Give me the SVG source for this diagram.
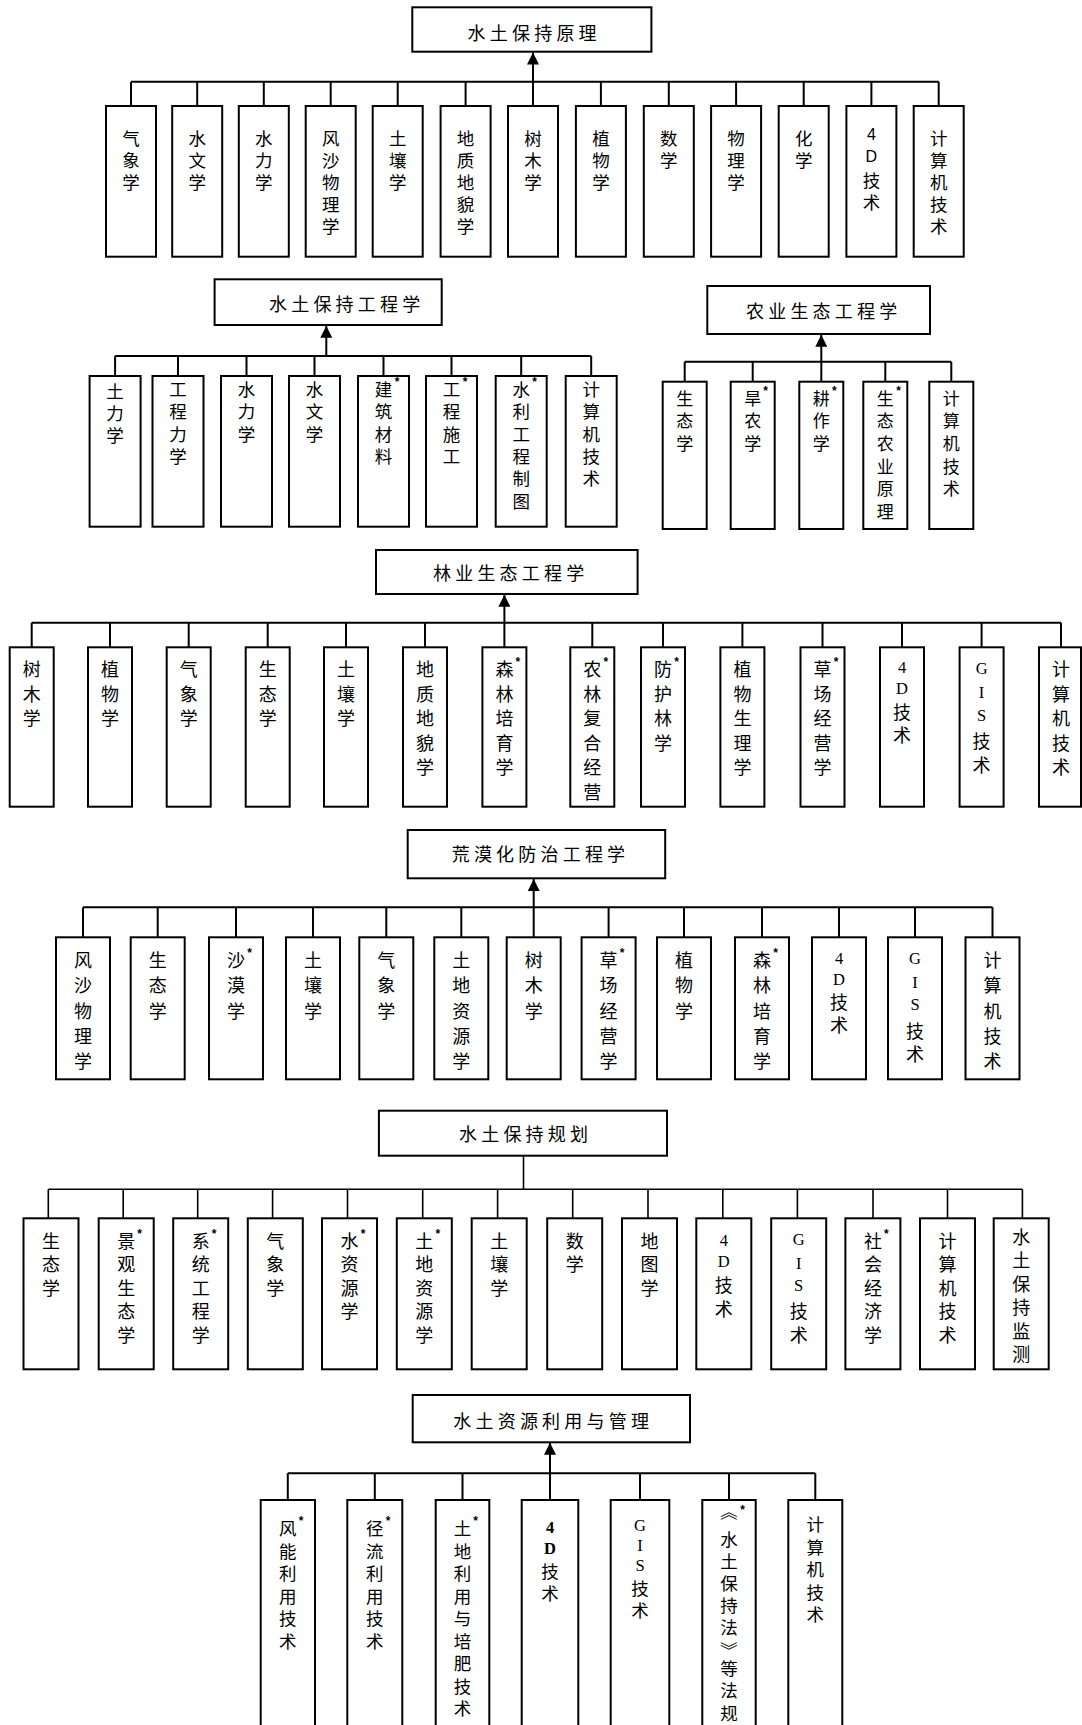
<svg xmlns="http://www.w3.org/2000/svg" width="1082" height="1725" viewBox="0 0 1082 1725">
<defs>
<style>
.box{fill:#fff;stroke:#000;stroke-width:2}
.ttl{font-family:"Noto Sans CJK SC","Noto Sans",sans-serif;font-size:18px;letter-spacing:4.2px;dominant-baseline:central;fill:#000}
.lbl{font-family:"Noto Sans CJK SC","Noto Sans",sans-serif;font-size:18px;text-anchor:middle;dominant-baseline:central;fill:#000}
.f175{font-size:17.5px}
.s2r{font-size:17px}
.lats{font-family:"Liberation Sans",Arial,sans-serif;font-size:16px}
.lat{font-family:"Liberation Serif","Times New Roman",serif;font-size:16.5px}
.latb{font-family:"Liberation Serif","Times New Roman",serif;font-size:16.5px;font-weight:bold}
.star{font-family:"Liberation Sans",Arial,sans-serif;font-size:12px;font-weight:bold;text-anchor:middle;fill:#000}
.ln{stroke:#000;stroke-width:2;fill:none}
.thin{stroke-width:1.6}
</style>
<marker id="ah" viewBox="0 0 10 10" refX="10" refY="5" markerWidth="12" markerHeight="12" markerUnits="userSpaceOnUse" orient="auto"><path d="M0,0 L10,5 L0,10 z" fill="#000"/></marker>
</defs>
<rect width="1082" height="1725" fill="#fff"/>

<!-- Section 1 -->
<g id="t1"><rect class="box" x="412.3" y="7.3" width="239.1" height="44.4"/><text class="ttl" x="467.6" y="31.7">水土保持原理</text></g>
<g id="s1n1"><rect class="box" x="106" y="106" width="50" height="150.7"/><text class="lbl f175"><tspan x="131" y="136.5">气</tspan><tspan x="131" y="158.5">象</tspan><tspan x="131" y="180.5">学</tspan></text></g>
<g id="s1n2"><rect class="box" x="172.2" y="106" width="50" height="150.7"/><text class="lbl f175"><tspan x="197.2" y="136.5">水</tspan><tspan x="197.2" y="158.5">文</tspan><tspan x="197.2" y="180.5">学</tspan></text></g>
<g id="s1n3"><rect class="box" x="238.8" y="106" width="50" height="150.7"/><text class="lbl f175"><tspan x="263.8" y="136.5">水</tspan><tspan x="263.8" y="158.5">力</tspan><tspan x="263.8" y="180.5">学</tspan></text></g>
<g id="s1n4"><rect class="box" x="305.7" y="106" width="50" height="150.7"/><text class="lbl f175"><tspan x="330.7" y="136.5">风</tspan><tspan x="330.7" y="158.5">沙</tspan><tspan x="330.7" y="180.5">物</tspan><tspan x="330.7" y="202.5">理</tspan><tspan x="330.7" y="224.5">学</tspan></text></g>
<g id="s1n5"><rect class="box" x="372.7" y="106" width="50" height="150.7"/><text class="lbl f175"><tspan x="397.7" y="136.5">土</tspan><tspan x="397.7" y="158.5">壤</tspan><tspan x="397.7" y="180.5">学</tspan></text></g>
<g id="s1n6"><rect class="box" x="440.6" y="106" width="50" height="150.7"/><text class="lbl f175"><tspan x="465.6" y="136.5">地</tspan><tspan x="465.6" y="158.5">质</tspan><tspan x="465.6" y="180.5">地</tspan><tspan x="465.6" y="202.5">貌</tspan><tspan x="465.6" y="224.5">学</tspan></text></g>
<g id="s1n7"><rect class="box" x="508" y="106" width="50" height="150.7"/><text class="lbl f175"><tspan x="533" y="136.5">树</tspan><tspan x="533" y="158.5">木</tspan><tspan x="533" y="180.5">学</tspan></text></g>
<g id="s1n8"><rect class="box" x="575.9" y="106" width="50" height="150.7"/><text class="lbl f175"><tspan x="600.9" y="136.5">植</tspan><tspan x="600.9" y="158.5">物</tspan><tspan x="600.9" y="180.5">学</tspan></text></g>
<g id="s1n9"><rect class="box" x="643.8" y="106" width="50" height="150.7"/><text class="lbl f175"><tspan x="668.8" y="136.5">数</tspan><tspan x="668.8" y="158.5">学</tspan></text></g>
<g id="s1n10"><rect class="box" x="711.1" y="106" width="50" height="150.7"/><text class="lbl f175"><tspan x="736.1" y="136.5">物</tspan><tspan x="736.1" y="158.5">理</tspan><tspan x="736.1" y="180.5">学</tspan></text></g>
<g id="s1n11"><rect class="box" x="778.7" y="106" width="50" height="150.7"/><text class="lbl f175"><tspan x="803.7" y="136.5">化</tspan><tspan x="803.7" y="158.5">学</tspan></text></g>
<g id="s1n12"><rect class="box" x="846.4" y="106" width="50" height="150.7"/><text class="lbl f175"><tspan class="lats" x="871.4" y="134">4</tspan><tspan class="lats" x="871.4" y="155.5">D</tspan><tspan x="871.4" y="178.5">技</tspan><tspan x="871.4" y="200.5">术</tspan></text></g>
<g id="s1n13"><rect class="box" x="913.7" y="106" width="50" height="150.7"/><text class="lbl f175"><tspan x="938.7" y="136.5">计</tspan><tspan x="938.7" y="158.5">算</tspan><tspan x="938.7" y="180.5">机</tspan><tspan x="938.7" y="202.5">技</tspan><tspan x="938.7" y="224.5">术</tspan></text></g>

<!-- Section 2 left -->
<g id="t2"><rect class="box" x="214.6" y="279.3" width="227.1" height="45.7"/><text class="ttl" x="269" y="303.3">水土保持工程学</text></g>
<g id="s2n1"><rect class="box" x="89.6" y="376" width="51" height="150.7"/><text class="lbl f175"><tspan x="115.1" y="390">土</tspan><tspan x="115.1" y="412">力</tspan><tspan x="115.1" y="434">学</tspan></text></g>
<g id="s2n2"><rect class="box" x="152.5" y="376" width="51" height="150.7"/><text class="lbl f175"><tspan x="178" y="388">工</tspan><tspan x="178" y="410.3">程</tspan><tspan x="178" y="432.6">力</tspan><tspan x="178" y="454.9">学</tspan></text></g>
<g id="s2n3"><rect class="box" x="221" y="376" width="51" height="150.7"/><text class="lbl f175"><tspan x="246.5" y="388">水</tspan><tspan x="246.5" y="410.3">力</tspan><tspan x="246.5" y="432.6">学</tspan></text></g>
<g id="s2n4"><rect class="box" x="289" y="376" width="51" height="150.7"/><text class="lbl f175"><tspan x="314.5" y="388">水</tspan><tspan x="314.5" y="410.3">文</tspan><tspan x="314.5" y="432.6">学</tspan></text></g>
<g id="s2n5"><rect class="box" x="358" y="376" width="51" height="150.7"/><text class="lbl f175"><tspan x="383.5" y="388">建</tspan><tspan x="383.5" y="410.3">筑</tspan><tspan x="383.5" y="432.6">材</tspan><tspan x="383.5" y="454.9">料</tspan></text><text class="star" x="397" y="386">*</text></g>
<g id="s2n6"><rect class="box" x="426" y="376" width="51" height="150.7"/><text class="lbl f175"><tspan x="451.5" y="388">工</tspan><tspan x="451.5" y="410.3">程</tspan><tspan x="451.5" y="432.6">施</tspan><tspan x="451.5" y="454.9">工</tspan></text><text class="star" x="465" y="386">*</text></g>
<g id="s2n7"><rect class="box" x="495.7" y="376" width="51" height="150.7"/><text class="lbl f175"><tspan x="521.2" y="388">水</tspan><tspan x="521.2" y="410.3">利</tspan><tspan x="521.2" y="432.6">工</tspan><tspan x="521.2" y="454.9">程</tspan><tspan x="521.2" y="477.2">制</tspan><tspan x="521.2" y="499.5">图</tspan></text><text class="star" x="534.7" y="386">*</text></g>
<g id="s2n8"><rect class="box" x="565.7" y="376" width="51" height="150.7"/><text class="lbl f175"><tspan x="591.2" y="388">计</tspan><tspan x="591.2" y="410.3">算</tspan><tspan x="591.2" y="432.6">机</tspan><tspan x="591.2" y="454.9">技</tspan><tspan x="591.2" y="477.2">术</tspan></text></g>

<!-- Section 2 right -->
<g id="t3"><rect class="box" x="707.3" y="286" width="222.7" height="48"/><text class="ttl" x="746" y="310">农业生态工程学</text></g>
<g id="s3n1"><rect class="box" x="662.7" y="381.7" width="44" height="147.3"/><text class="lbl s2r"><tspan x="684.7" y="396.7">生</tspan><tspan x="684.7" y="419.3">态</tspan><tspan x="684.7" y="441.9">学</tspan></text></g>
<g id="s3n2"><rect class="box" x="730.7" y="381.7" width="44" height="147.3"/><text class="lbl s2r"><tspan x="752.7" y="396.7">旱</tspan><tspan x="752.7" y="419.3">农</tspan><tspan x="752.7" y="441.9">学</tspan></text><text class="star" x="765.5" y="395">*</text></g>
<g id="s3n3"><rect class="box" x="799.3" y="381.7" width="44" height="147.3"/><text class="lbl s2r"><tspan x="821.3" y="396.7">耕</tspan><tspan x="821.3" y="419.3">作</tspan><tspan x="821.3" y="441.9">学</tspan></text><text class="star" x="834.3" y="395">*</text></g>
<g id="s3n4"><rect class="box" x="863.3" y="381.7" width="44" height="147.3"/><text class="lbl s2r"><tspan x="885.3" y="396.7">生</tspan><tspan x="885.3" y="419.3">态</tspan><tspan x="885.3" y="441.9">农</tspan><tspan x="885.3" y="464.5">业</tspan><tspan x="885.3" y="487.1">原</tspan><tspan x="885.3" y="509.7">理</tspan></text><text class="star" x="898.5" y="395">*</text></g>
<g id="s3n5"><rect class="box" x="929.3" y="381.7" width="44" height="147.3"/><text class="lbl s2r"><tspan x="951.3" y="396.7">计</tspan><tspan x="951.3" y="419.3">算</tspan><tspan x="951.3" y="441.9">机</tspan><tspan x="951.3" y="464.5">技</tspan><tspan x="951.3" y="487.1">术</tspan></text></g>

<!-- Section 3 -->
<g id="t4"><rect class="box" x="376" y="550" width="261.6" height="44"/><text class="ttl" x="433" y="571.7">林业生态工程学</text></g>
<g id="s4n1"><rect class="box" x="9.7" y="647.3" width="44" height="159.4"/><text class="lbl"><tspan x="31.7" y="668">树</tspan><tspan x="31.7" y="692.5">木</tspan><tspan x="31.7" y="717">学</tspan></text></g>
<g id="s4n2"><rect class="box" x="88" y="647.3" width="44" height="159.4"/><text class="lbl"><tspan x="110" y="668">植</tspan><tspan x="110" y="692.5">物</tspan><tspan x="110" y="717">学</tspan></text></g>
<g id="s4n3"><rect class="box" x="166.7" y="647.3" width="44" height="159.4"/><text class="lbl"><tspan x="188.7" y="668">气</tspan><tspan x="188.7" y="692.5">象</tspan><tspan x="188.7" y="717">学</tspan></text></g>
<g id="s4n4"><rect class="box" x="245.7" y="647.3" width="44" height="159.4"/><text class="lbl"><tspan x="267.7" y="668">生</tspan><tspan x="267.7" y="692.5">态</tspan><tspan x="267.7" y="717">学</tspan></text></g>
<g id="s4n5"><rect class="box" x="324" y="647.3" width="44" height="159.4"/><text class="lbl"><tspan x="346" y="668">土</tspan><tspan x="346" y="692.5">壤</tspan><tspan x="346" y="717">学</tspan></text></g>
<g id="s4n6"><rect class="box" x="403" y="647.3" width="44" height="159.4"/><text class="lbl"><tspan x="425" y="668">地</tspan><tspan x="425" y="692.5">质</tspan><tspan x="425" y="717">地</tspan><tspan x="425" y="741.5">貌</tspan><tspan x="425" y="766">学</tspan></text></g>
<g id="s4n7"><rect class="box" x="482.4" y="647.3" width="44" height="159.4"/><text class="lbl"><tspan x="504.4" y="668">森</tspan><tspan x="504.4" y="692.5">林</tspan><tspan x="504.4" y="717">培</tspan><tspan x="504.4" y="741.5">育</tspan><tspan x="504.4" y="766">学</tspan></text><text class="star" x="517.9" y="666">*</text></g>
<g id="s4n8"><rect class="box" x="570.3" y="647.3" width="44" height="159.4"/><text class="lbl"><tspan x="592.3" y="668">农</tspan><tspan x="592.3" y="692.5">林</tspan><tspan x="592.3" y="717">复</tspan><tspan x="592.3" y="741.5">合</tspan><tspan x="592.3" y="766">经</tspan><tspan x="592.3" y="790.5">营</tspan></text><text class="star" x="605.8" y="666">*</text></g>
<g id="s4n9"><rect class="box" x="641" y="647.3" width="44" height="159.4"/><text class="lbl"><tspan x="663" y="668">防</tspan><tspan x="663" y="692.5">护</tspan><tspan x="663" y="717">林</tspan><tspan x="663" y="741.5">学</tspan></text><text class="star" x="676.5" y="666">*</text></g>
<g id="s4n10"><rect class="box" x="720.4" y="647.3" width="44" height="159.4"/><text class="lbl"><tspan x="742.4" y="668">植</tspan><tspan x="742.4" y="692.5">物</tspan><tspan x="742.4" y="717">生</tspan><tspan x="742.4" y="741.5">理</tspan><tspan x="742.4" y="766">学</tspan></text></g>
<g id="s4n11"><rect class="box" x="800.5" y="647.3" width="44" height="159.4"/><text class="lbl"><tspan x="822.5" y="668">草</tspan><tspan x="822.5" y="692.5">场</tspan><tspan x="822.5" y="717">经</tspan><tspan x="822.5" y="741.5">营</tspan><tspan x="822.5" y="766">学</tspan></text><text class="star" x="836" y="666">*</text></g>
<g id="s4n12"><rect class="box" x="880" y="647.3" width="44" height="159.4"/><text class="lbl"><tspan class="lat" x="902" y="667">4</tspan><tspan class="lat" x="902" y="688">D</tspan><tspan x="902" y="711">技</tspan><tspan x="902" y="734">术</tspan></text></g>
<g id="s4n13"><rect class="box" x="959.6" y="647.3" width="44" height="159.4"/><text class="lbl"><tspan class="lat" x="981.6" y="668">G</tspan><tspan class="lat" x="981.6" y="692">I</tspan><tspan class="lat" x="981.6" y="715">S</tspan><tspan x="981.6" y="740">技</tspan><tspan x="981.6" y="763.5">术</tspan></text></g>
<g id="s4n14"><rect class="box" x="1039" y="647.3" width="42" height="159.4"/><text class="lbl"><tspan x="1061" y="668">计</tspan><tspan x="1061" y="692.5">算</tspan><tspan x="1061" y="717">机</tspan><tspan x="1061" y="741.5">技</tspan><tspan x="1061" y="766">术</tspan></text></g>

<!-- Section 4 -->
<g id="t5"><rect class="box" x="407.7" y="830" width="257.5" height="48.3"/><text class="ttl" x="451.7" y="853.3">荒漠化防治工程学</text></g>
<g id="s5n1"><rect class="box" x="56" y="937.3" width="54" height="142"/><text class="lbl"><tspan x="83" y="959">风</tspan><tspan x="83" y="984.3">沙</tspan><tspan x="83" y="1009.6">物</tspan><tspan x="83" y="1034.9">理</tspan><tspan x="83" y="1060.2">学</tspan></text></g>
<g id="s5n2"><rect class="box" x="130.7" y="937.3" width="54" height="142"/><text class="lbl"><tspan x="157.7" y="959">生</tspan><tspan x="157.7" y="984.3">态</tspan><tspan x="157.7" y="1009.6">学</tspan></text></g>
<g id="s5n3"><rect class="box" x="209" y="937.3" width="54" height="142"/><text class="lbl"><tspan x="236" y="959">沙</tspan><tspan x="236" y="984.3">漠</tspan><tspan x="236" y="1009.6">学</tspan></text><text class="star" x="249.5" y="957">*</text></g>
<g id="s5n4"><rect class="box" x="286" y="937.3" width="54" height="142"/><text class="lbl"><tspan x="313" y="959">土</tspan><tspan x="313" y="984.3">壤</tspan><tspan x="313" y="1009.6">学</tspan></text></g>
<g id="s5n5"><rect class="box" x="359.3" y="937.3" width="54" height="142"/><text class="lbl"><tspan x="386.3" y="959">气</tspan><tspan x="386.3" y="984.3">象</tspan><tspan x="386.3" y="1009.6">学</tspan></text></g>
<g id="s5n6"><rect class="box" x="434.3" y="937.3" width="54" height="142"/><text class="lbl"><tspan x="461.3" y="959">土</tspan><tspan x="461.3" y="984.3">地</tspan><tspan x="461.3" y="1009.6">资</tspan><tspan x="461.3" y="1034.9">源</tspan><tspan x="461.3" y="1060.2">学</tspan></text></g>
<g id="s5n7"><rect class="box" x="506.7" y="937.3" width="54" height="142"/><text class="lbl"><tspan x="533.7" y="959">树</tspan><tspan x="533.7" y="984.3">木</tspan><tspan x="533.7" y="1009.6">学</tspan></text></g>
<g id="s5n8"><rect class="box" x="581.6" y="937.3" width="54" height="142"/><text class="lbl"><tspan x="608.6" y="959">草</tspan><tspan x="608.6" y="984.3">场</tspan><tspan x="608.6" y="1009.6">经</tspan><tspan x="608.6" y="1034.9">营</tspan><tspan x="608.6" y="1060.2">学</tspan></text><text class="star" x="622.1" y="957">*</text></g>
<g id="s5n9"><rect class="box" x="657" y="937.3" width="54" height="142"/><text class="lbl"><tspan x="684" y="959">植</tspan><tspan x="684" y="984.3">物</tspan><tspan x="684" y="1009.6">学</tspan></text></g>
<g id="s5n10"><rect class="box" x="735" y="937.3" width="54" height="142"/><text class="lbl"><tspan x="762" y="959">森</tspan><tspan x="762" y="984.3">林</tspan><tspan x="762" y="1009.6">培</tspan><tspan x="762" y="1034.9">育</tspan><tspan x="762" y="1060.2">学</tspan></text><text class="star" x="775.5" y="957">*</text></g>
<g id="s5n11"><rect class="box" x="812" y="937.3" width="54" height="142"/><text class="lbl"><tspan class="lat" x="839" y="958">4</tspan><tspan class="lat" x="839" y="979">D</tspan><tspan x="839" y="1001">技</tspan><tspan x="839" y="1024">术</tspan></text></g>
<g id="s5n12"><rect class="box" x="888" y="937.3" width="54" height="142"/><text class="lbl"><tspan class="lat" x="915" y="958">G</tspan><tspan class="lat" x="915" y="981.7">I</tspan><tspan class="lat" x="915" y="1004">S</tspan><tspan x="915" y="1030">技</tspan><tspan x="915" y="1053.3">术</tspan></text></g>
<g id="s5n13"><rect class="box" x="965.5" y="937.3" width="54" height="142"/><text class="lbl"><tspan x="992.5" y="959">计</tspan><tspan x="992.5" y="984.3">算</tspan><tspan x="992.5" y="1009.6">机</tspan><tspan x="992.5" y="1034.9">技</tspan><tspan x="992.5" y="1060.2">术</tspan></text></g>

<!-- Section 5 -->
<g id="t6"><rect class="box" x="378.9" y="1110.7" width="288.1" height="45"/><text class="ttl" x="459" y="1133.3">水土保持规划</text></g>
<g id="s6n1"><rect class="box" x="23.5" y="1218.3" width="55" height="151"/><text class="lbl"><tspan x="51" y="1240">生</tspan><tspan x="51" y="1263.4">态</tspan><tspan x="51" y="1286.8">学</tspan></text></g>
<g id="s6n2"><rect class="box" x="98.7" y="1218.3" width="55" height="151"/><text class="lbl"><tspan x="126.2" y="1240">景</tspan><tspan x="126.2" y="1263.4">观</tspan><tspan x="126.2" y="1286.8">生</tspan><tspan x="126.2" y="1310.2">态</tspan><tspan x="126.2" y="1333.6">学</tspan></text><text class="star" x="139.7" y="1238">*</text></g>
<g id="s6n3"><rect class="box" x="173.2" y="1218.3" width="55" height="151"/><text class="lbl"><tspan x="200.7" y="1240">系</tspan><tspan x="200.7" y="1263.4">统</tspan><tspan x="200.7" y="1286.8">工</tspan><tspan x="200.7" y="1310.2">程</tspan><tspan x="200.7" y="1333.6">学</tspan></text><text class="star" x="214.2" y="1238">*</text></g>
<g id="s6n4"><rect class="box" x="247.8" y="1218.3" width="55" height="151"/><text class="lbl"><tspan x="275.3" y="1240">气</tspan><tspan x="275.3" y="1263.4">象</tspan><tspan x="275.3" y="1286.8">学</tspan></text></g>
<g id="s6n5"><rect class="box" x="322" y="1218.3" width="55" height="151"/><text class="lbl"><tspan x="349.5" y="1240">水</tspan><tspan x="349.5" y="1263.4">资</tspan><tspan x="349.5" y="1286.8">源</tspan><tspan x="349.5" y="1310.2">学</tspan></text><text class="star" x="363" y="1238">*</text></g>
<g id="s6n6"><rect class="box" x="396.8" y="1218.3" width="55" height="151"/><text class="lbl"><tspan x="424.3" y="1240">土</tspan><tspan x="424.3" y="1263.4">地</tspan><tspan x="424.3" y="1286.8">资</tspan><tspan x="424.3" y="1310.2">源</tspan><tspan x="424.3" y="1333.6">学</tspan></text><text class="star" x="437.8" y="1238">*</text></g>
<g id="s6n7"><rect class="box" x="471.7" y="1218.3" width="55" height="151"/><text class="lbl"><tspan x="499.2" y="1240">土</tspan><tspan x="499.2" y="1263.4">壤</tspan><tspan x="499.2" y="1286.8">学</tspan></text></g>
<g id="s6n8"><rect class="box" x="547.2" y="1218.3" width="55" height="151"/><text class="lbl"><tspan x="574.7" y="1240">数</tspan><tspan x="574.7" y="1263.4">学</tspan></text></g>
<g id="s6n9"><rect class="box" x="622" y="1218.3" width="55" height="151"/><text class="lbl"><tspan x="649.5" y="1240">地</tspan><tspan x="649.5" y="1263.4">图</tspan><tspan x="649.5" y="1286.8">学</tspan></text></g>
<g id="s6n10"><rect class="box" x="696.3" y="1218.3" width="55" height="151"/><text class="lbl"><tspan class="lat" x="723.8" y="1240">4</tspan><tspan class="lat" x="723.8" y="1261">D</tspan><tspan x="723.8" y="1284">技</tspan><tspan x="723.8" y="1308">术</tspan></text></g>
<g id="s6n11"><rect class="box" x="771.2" y="1218.3" width="55" height="151"/><text class="lbl"><tspan class="lat" x="798.7" y="1238.5">G</tspan><tspan class="lat" x="798.7" y="1263">I</tspan><tspan class="lat" x="798.7" y="1285">S</tspan><tspan x="798.7" y="1310">技</tspan><tspan x="798.7" y="1333.5">术</tspan></text></g>
<g id="s6n12"><rect class="box" x="845.4" y="1218.3" width="55" height="151"/><text class="lbl"><tspan x="872.9" y="1240">社</tspan><tspan x="872.9" y="1263.4">会</tspan><tspan x="872.9" y="1286.8">经</tspan><tspan x="872.9" y="1310.2">济</tspan><tspan x="872.9" y="1333.6">学</tspan></text><text class="star" x="886.4" y="1238">*</text></g>
<g id="s6n13"><rect class="box" x="920" y="1218.3" width="55" height="151"/><text class="lbl"><tspan x="947.5" y="1240">计</tspan><tspan x="947.5" y="1263.4">算</tspan><tspan x="947.5" y="1286.8">机</tspan><tspan x="947.5" y="1310.2">技</tspan><tspan x="947.5" y="1333.6">术</tspan></text></g>
<g id="s6n14"><rect class="box" x="993.7" y="1218.3" width="55" height="151"/><text class="lbl"><tspan x="1021.2" y="1236">水</tspan><tspan x="1021.2" y="1259.4">土</tspan><tspan x="1021.2" y="1282.8">保</tspan><tspan x="1021.2" y="1306.2">持</tspan><tspan x="1021.2" y="1329.6">监</tspan><tspan x="1021.2" y="1353">测</tspan></text></g>

<!-- Section 6 -->
<g id="t7"><rect class="box" x="412.7" y="1395" width="277.3" height="47.3"/><text class="ttl" x="453.3" y="1420">水土资源利用与管理</text></g>
<g id="s7n1"><rect class="box" x="260.7" y="1500" width="54.3" height="240"/><text class="lbl f175"><tspan x="287.8" y="1527">风</tspan><tspan x="287.8" y="1549.5">能</tspan><tspan x="287.8" y="1572">利</tspan><tspan x="287.8" y="1594.5">用</tspan><tspan x="287.8" y="1617">技</tspan><tspan x="287.8" y="1639.5">术</tspan></text><text class="star" x="301" y="1525">*</text></g>
<g id="s7n2"><rect class="box" x="347.3" y="1500" width="55" height="240"/><text class="lbl f175"><tspan x="374.8" y="1527">径</tspan><tspan x="374.8" y="1549.5">流</tspan><tspan x="374.8" y="1572">利</tspan><tspan x="374.8" y="1594.5">用</tspan><tspan x="374.8" y="1617">技</tspan><tspan x="374.8" y="1639.5">术</tspan></text><text class="star" x="388" y="1525">*</text></g>
<g id="s7n3"><rect class="box" x="435.7" y="1500" width="53.6" height="240"/><text class="lbl f175"><tspan x="462.5" y="1527">土</tspan><tspan x="462.5" y="1549.5">地</tspan><tspan x="462.5" y="1572">利</tspan><tspan x="462.5" y="1594.5">用</tspan><tspan x="462.5" y="1617">与</tspan><tspan x="462.5" y="1639.5">培</tspan><tspan x="462.5" y="1662">肥</tspan><tspan x="462.5" y="1684.5">技</tspan><tspan x="462.5" y="1707">术</tspan></text><text class="star" x="475.5" y="1525">*</text></g>
<g id="s7n4"><rect class="box" x="521.7" y="1500" width="56.6" height="240"/><text class="lbl f175"><tspan class="latb" x="550" y="1527">4</tspan><tspan class="latb" x="550" y="1548">D</tspan><tspan x="550" y="1570">技</tspan><tspan x="550" y="1592">术</tspan></text></g>
<g id="s7n5"><rect class="box" x="610.7" y="1500" width="58.6" height="240"/><text class="lbl f175"><tspan class="lat" x="640" y="1525">G</tspan><tspan class="lat" x="640" y="1545">I</tspan><tspan class="lat" x="640" y="1565">S</tspan><tspan x="640" y="1587">技</tspan><tspan x="640" y="1609">术</tspan></text></g>
<g id="s7n6"><rect class="box" x="702.3" y="1500" width="53.4" height="240"/><text class="lbl f175" x="724.7" y="1516" transform="rotate(90 729 1516)">《</text><text class="lbl f175"><tspan x="729" y="1538">水</tspan><tspan x="729" y="1560">土</tspan><tspan x="729" y="1582">保</tspan><tspan x="729" y="1604">持</tspan><tspan x="729" y="1626">法</tspan></text><text class="lbl f175" x="733.3" y="1646" transform="rotate(90 729 1646)">》</text><text class="lbl f175"><tspan x="729" y="1666.5">等</tspan><tspan x="729" y="1689">法</tspan><tspan x="729" y="1711.5">规</tspan></text><text class="star" x="742.5" y="1514">*</text></g>
<g id="s7n7"><rect class="box" x="788.3" y="1500" width="54" height="240"/><text class="lbl f175"><tspan x="815.3" y="1523">计</tspan><tspan x="815.3" y="1545.5">算</tspan><tspan x="815.3" y="1568">机</tspan><tspan x="815.3" y="1590.5">技</tspan><tspan x="815.3" y="1613">术</tspan></text></g>

<!-- Connectors -->
<g id="connectors">
<path class="ln" d="M131,81.7 H938.7 M131,81.7 V106 M197.2,81.7 V106 M263.8,81.7 V106 M330.7,81.7 V106 M397.7,81.7 V106 M465.6,81.7 V106 M600.9,81.7 V106 M668.8,81.7 V106 M736.1,81.7 V106 M803.7,81.7 V106 M871.4,81.7 V106 M938.7,81.7 V106"/>
<path class="ln" d="M533,106 V52.5" marker-end="url(#ah)"/>

<path class="ln" d="M115.1,356 H591.2 M115.1,356 V376 M178,356 V376 M246.5,356 V376 M314.5,356 V376 M383.5,356 V376 M451.5,356 V376 M521.2,356 V376 M591.2,356 V376"/>
<path class="ln" d="M326.3,356 V325.8" marker-end="url(#ah)"/>

<path class="ln" d="M684.7,361.7 H951.3 M684.7,361.7 V381.7 M752.7,361.7 V381.7 M885.3,361.7 V381.7 M951.3,361.7 V381.7"/>
<path class="ln" d="M821.3,381.7 V334.8" marker-end="url(#ah)"/>

<path class="ln" d="M31.7,622.7 H1061 M31.7,622.7 V647.3 M110,622.7 V647.3 M188.7,622.7 V647.3 M267.7,622.7 V647.3 M346,622.7 V647.3 M425,622.7 V647.3 M592.3,622.7 V647.3 M663,622.7 V647.3 M742.4,622.7 V647.3 M822.5,622.7 V647.3 M902,622.7 V647.3 M981.6,622.7 V647.3 M1061,622.7 V647.3"/>
<path class="ln" d="M504.4,647.3 V594.8" marker-end="url(#ah)"/>

<path class="ln" d="M83,907.3 H992.5 M83,907.3 V937.3 M157.7,907.3 V937.3 M236,907.3 V937.3 M313,907.3 V937.3 M386.3,907.3 V937.3 M461.3,907.3 V937.3 M608.6,907.3 V937.3 M684,907.3 V937.3 M762,907.3 V937.3 M839,907.3 V937.3 M915,907.3 V937.3 M992.5,907.3 V937.3"/>
<path class="ln" d="M533.7,937.3 V879" marker-end="url(#ah)"/>

<path class="ln thin" d="M523.5,1155.7 V1189.3 M48.3,1189.3 H1022.4 M48.3,1189.3 V1218.3 M123.2,1189.3 V1218.3 M197.7,1189.3 V1218.3 M272.6,1189.3 V1218.3 M347.5,1189.3 V1218.3 M422.7,1189.3 V1218.3 M497.6,1189.3 V1218.3 M572.7,1189.3 V1218.3 M648,1189.3 V1218.3 M722.8,1189.3 V1218.3 M797.4,1189.3 V1218.3 M873,1189.3 V1218.3 M947.5,1189.3 V1218.3 M1022.4,1189.3 V1218.3"/>

<path class="ln" d="M287.8,1473.3 H815.3 M287.8,1473.3 V1500 M374.8,1473.3 V1500 M462.5,1473.3 V1500 M640,1473.3 V1500 M729,1473.3 V1500 M815.3,1473.3 V1500"/>
<path class="ln" d="M550,1500 V1442.8" marker-end="url(#ah)"/>
</g>
</svg>
